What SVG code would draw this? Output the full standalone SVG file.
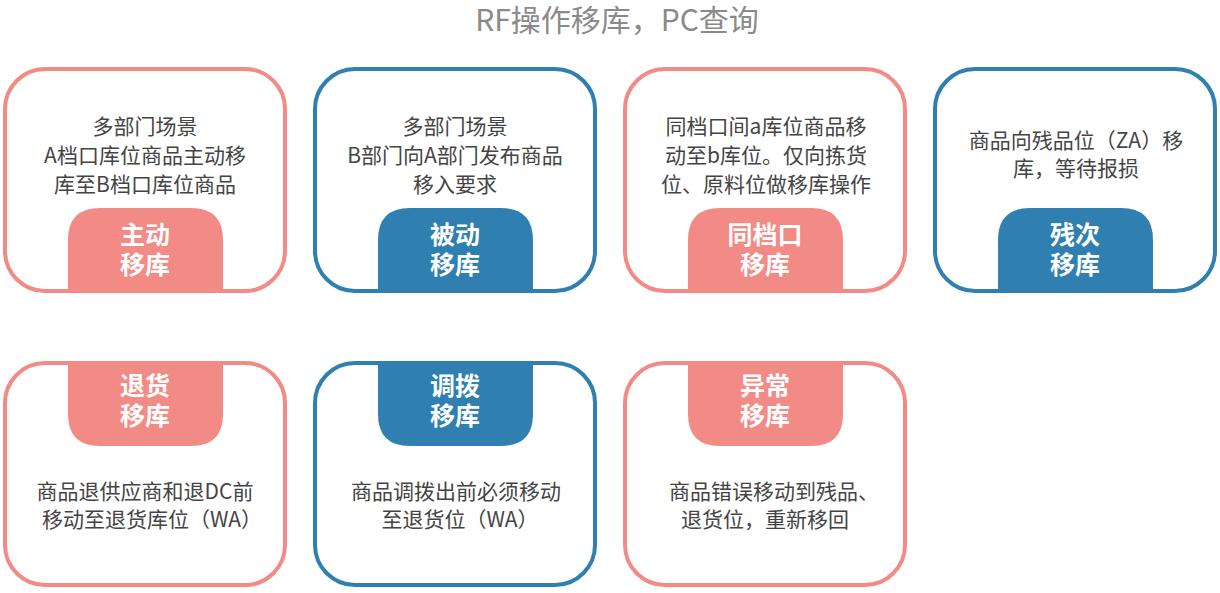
<svg xmlns="http://www.w3.org/2000/svg" width="1220" height="593" viewBox="0 0 1220 593">
<style>
.box{fill:#fff;stroke-width:4}
.pk{stroke:#F28B86}
.bl{stroke:#2F80B0}
.tpk{fill:#F28B86}
.tbl{fill:#2F80B0}
.t{font-family:"Noto Sans CJK SC","Noto Sans",sans-serif;font-size:21px;fill:#444;text-anchor:middle}
.tab{font-family:"Noto Sans CJK SC","Noto Sans",sans-serif;font-size:25px;font-weight:bold;fill:#fff;text-anchor:middle}
.title{font-family:"Noto Sans CJK SC","Noto Sans",sans-serif;font-size:30px;fill:#8a8a8a;text-anchor:middle}
</style>
<rect width="1220" height="593" fill="#fff"/>
<text class="title" x="617" y="31">RF操作移库，PC查询</text>

<g id="node1">
<rect class="box pk" x="5" y="69" width="280" height="222" rx="40"/>
<path class="tpk" d="M68,291 V240 Q68,208 100,208 H191 Q223,208 223,240 V291 Z"/>
<text class="t" x="145" y="134">多部门场景</text>
<text class="t" x="145" y="163">A档口库位商品主动移</text>
<text class="t" x="145" y="192">库至B档口库位商品</text>
<text class="tab" x="145" y="244">主动</text>
<text class="tab" x="145" y="274">移库</text>
</g>

<g id="node2">
<rect class="box bl" x="315" y="69" width="280" height="222" rx="40"/>
<path class="tbl" d="M378,291 V240 Q378,208 410,208 H501 Q533,208 533,240 V291 Z"/>
<text class="t" x="455" y="134">多部门场景</text>
<text class="t" x="455" y="163">B部门向A部门发布商品</text>
<text class="t" x="455" y="192">移入要求</text>
<text class="tab" x="455" y="244">被动</text>
<text class="tab" x="455" y="274">移库</text>
</g>

<g id="node3">
<rect class="box pk" x="625" y="69" width="280" height="222" rx="40"/>
<path class="tpk" d="M688,291 V240 Q688,208 720,208 H811 Q843,208 843,240 V291 Z"/>
<text class="t" x="766" y="134">同档口间a库位商品移</text>
<text class="t" x="766" y="163">动至b库位。仅向拣货</text>
<text class="t" x="766" y="192">位、原料位做移库操作</text>
<text class="tab" x="765" y="244">同档口</text>
<text class="tab" x="765" y="274">移库</text>
</g>

<g id="node4">
<rect class="box bl" x="935" y="69" width="280" height="222" rx="40"/>
<path class="tbl" d="M998,291 V240 Q998,208 1030,208 H1121 Q1153,208 1153,240 V291 Z"/>
<text class="t" x="1076" y="148">商品向残品位（ZA）移</text>
<text class="t" x="1076" y="176">库，等待报损</text>
<text class="tab" x="1075" y="244">残次</text>
<text class="tab" x="1075" y="274">移库</text>
</g>

<g id="node5">
<rect class="box pk" x="5" y="363" width="280" height="222" rx="40"/>
<path class="tpk" d="M68,363 V414 Q68,446 100,446 H191 Q223,446 223,414 V363 Z"/>
<text class="tab" x="145" y="395">退货</text>
<text class="tab" x="145" y="425">移库</text>
<text class="t" x="145" y="499">商品退供应商和退DC前</text>
<text class="t" x="152" y="527">移动至退货库位（WA）</text>
</g>

<g id="node6">
<rect class="box bl" x="315" y="363" width="280" height="222" rx="40"/>
<path class="tbl" d="M378,363 V414 Q378,446 410,446 H501 Q533,446 533,414 V363 Z"/>
<text class="tab" x="455" y="395">调拨</text>
<text class="tab" x="455" y="425">移库</text>
<text class="t" x="456" y="499">商品调拨出前必须移动</text>
<text class="t" x="460" y="527">至退货位（WA）</text>
</g>

<g id="node7">
<rect class="box pk" x="625" y="363" width="280" height="222" rx="40"/>
<path class="tpk" d="M688,363 V414 Q688,446 720,446 H811 Q843,446 843,414 V363 Z"/>
<text class="tab" x="765" y="395">异常</text>
<text class="tab" x="765" y="425">移库</text>
<text class="t" x="774" y="499">商品错误移动到残品、</text>
<text class="t" x="765" y="527">退货位，重新移回</text>
</g>

<g id="connectors"></g>
</svg>
